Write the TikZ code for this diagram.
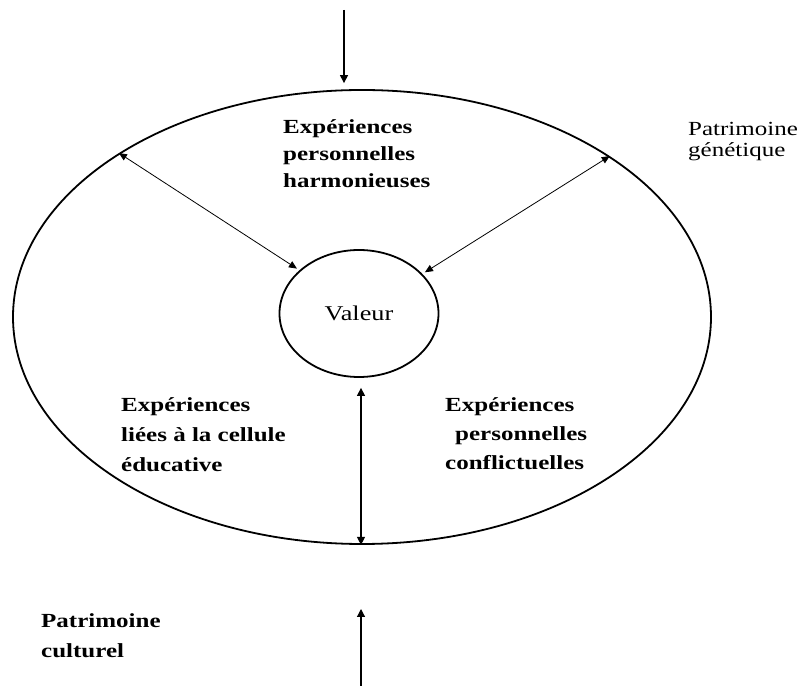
\documentclass[tikz,border=0pt]{standalone}
\usepackage{fontspec}
\usetikzlibrary{arrows.meta,shapes.geometric}
\newfontfamily\diagfont[FakeStretch=1.25]{Liberation Serif}
\begin{document}
\begin{tikzpicture}[x=1pt,y=1pt,
  ring/.style={draw,ellipse,line width=1.8pt,inner sep=0pt},
  label/.style={align=left,inner sep=0pt,anchor=base west},
  boldtext/.style={label,font=\diagfont\bfseries\fontsize{20}{27}\selectfont},
  plaintext/.style={label,font=\diagfont\fontsize{20}{21}\selectfont},
  thinboth/.style={line width=0.8pt,{Triangle[length=8pt,width=7pt]}-{Triangle[length=8pt,width=7pt]}},
  midarrow/.style={line width=1.2pt,-{Triangle[length=8pt,width=8pt]}},
  midboth/.style={line width=1.2pt,{Triangle[length=8pt,width=8pt]}-{Triangle[length=8pt,width=8pt]}}]
\useasboundingbox (0,0) rectangle (807,686);

% outer field and the central value
\node[ring,minimum width=698pt,minimum height=454pt] (outer) at (362,369) {};
\node[ring,minimum width=159pt,minimum height=127pt,
      font=\diagfont\fontsize{21}{24}\selectfont] (valeur) at (359,372.5) {Valeur};

% labels (anchored at the baseline of their last line)
\node[boldtext] (harm) at (283,498) {Expériences\\personnelles\\harmonieuses};
\node[plaintext] (gene) at (688,529) {Patrimoine\\génétique};
\node[boldtext,font=\diagfont\bfseries\fontsize{20}{30}\selectfont] (educ) at (121,214) {Expériences\\liées à la cellule\\éducative};
\node[boldtext,font=\diagfont\bfseries\fontsize{20}{29}\selectfont] (conf) at (445,216) {Expériences\\\hspace*{10pt}personnelles\\conflictuelles};
\node[boldtext,font=\diagfont\bfseries\fontsize{20}{30}\selectfont] (cult) at (41,28) {Patrimoine\\culturel};

% connectors
\coordinate (topsrc) at (344,676);
\coordinate (botsrc) at (361,0);
\coordinate (botend) at (361,77);
\draw[midarrow,shorten >=6pt] (topsrc) -- (topsrc |- outer.north);
\draw[midarrow] (botsrc) -- (botend);
\draw[thinboth,shorten >=3pt] (outer.146) -- (valeur.144);
\draw[thinboth,shorten >=3pt] (outer.33.6) -- (valeur.32.5);
\draw[midboth,shorten <=10pt] ([xshift=2pt]valeur.south) -- ([xshift=-1pt]outer.south);
\end{tikzpicture}
\end{document}
